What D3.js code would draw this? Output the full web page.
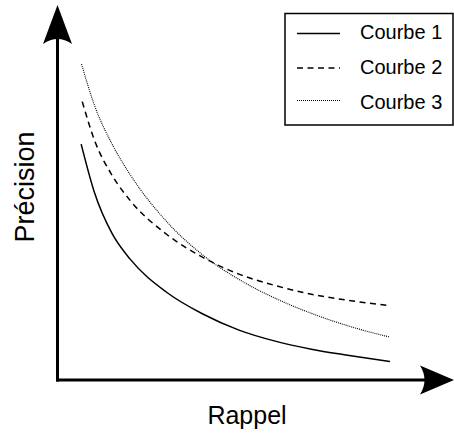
<!DOCTYPE html>
<html><head><meta charset="utf-8">
<script src="https://cdn.jsdelivr.net/npm/d3@7"></script>
<style>html,body{margin:0;padding:0;background:#fff;}svg{display:block;}</style>
</head><body>
<svg id="c" width="454" height="435"></svg>
<script>
// Data (Rappel on x, Précision on y, both in 0..1)
const seriesNames = ["Courbe 1", "Courbe 2", "Courbe 3"];
const rappel1 = [0.064, 0.1, 0.15, 0.2, 0.3, 0.4, 0.5, 0.6, 0.7, 0.8, 0.917];
const precision1 = [0.704, 0.562, 0.436, 0.360, 0.262, 0.197, 0.149, 0.116, 0.092, 0.074, 0.055];
const rappel2 = [0.067, 0.1, 0.15, 0.2, 0.3, 0.4, 0.5, 0.6, 0.7, 0.8, 0.917];
const precision2 = [0.831, 0.718, 0.610, 0.535, 0.435, 0.366, 0.316, 0.282, 0.256, 0.238, 0.222];
const rappel3 = [0.065, 0.1, 0.15, 0.2, 0.3, 0.4, 0.5, 0.6, 0.7, 0.8, 0.917];
const precision3 = [0.943, 0.822, 0.703, 0.612, 0.473, 0.373, 0.300, 0.244, 0.199, 0.162, 0.128];
const xLabel = "Rappel";
const yLabel = "Précision";

const svg = d3.select("#c");
const x = d3.scaleLinear().domain([0, 1]).range([58, 420]);
const y = d3.scaleLinear().domain([0, 1]).range([380, 45]);

const series = [
  {name: seriesNames[0], xs: rappel1, ys: precision1, dash: null, w: 1.5},
  {name: seriesNames[1], xs: rappel2, ys: precision2, dash: "6,4.5", w: 1.5},
  {name: seriesNames[2], xs: rappel3, ys: precision3, dash: "1,1", w: 1.1}
];

const line = d3.line().x(d => x(d[0])).y(d => y(d[1])).curve(d3.curveMonotoneX);
series.forEach(s => {
  svg.append("path")
    .datum(s.xs.map((v, i) => [v, s.ys[i]]))
    .attr("d", line)
    .attr("fill", "none")
    .attr("stroke", "#000")
    .attr("stroke-width", s.w)
    .attr("stroke-dasharray", s.dash);
});

// Axes with arrows
const ox = x(0) - 0.5, oy = y(0);
svg.append("line").attr("x1", ox).attr("y1", oy + 1.5).attr("x2", ox).attr("y2", 38)
  .attr("stroke", "#000").attr("stroke-width", 3);
svg.append("line").attr("x1", ox - 1.5).attr("y1", oy).attr("x2", 428).attr("y2", oy)
  .attr("stroke", "#000").attr("stroke-width", 3);
svg.append("path")
  .attr("d", `M${ox},5 L${ox + 14.5},44 Q${ox},34 ${ox - 14.5},44 Z`)
  .attr("fill", "#000");
svg.append("path")
  .attr("d", `M454,${oy} L420,${oy + 14.5} Q429,${oy} 420,${oy - 14.5} Z`)
  .attr("fill", "#000");

// Axis labels
svg.append("text").attr("x", 247).attr("y", 424).attr("text-anchor", "middle")
  .attr("font-family", "Liberation Sans, Arial, sans-serif").attr("font-size", 25)
  .text(xLabel);
svg.append("text").attr("transform", "translate(33.5,187) rotate(-90)").attr("text-anchor", "middle")
  .attr("font-family", "Liberation Sans, Arial, sans-serif").attr("font-size", 27)
  .text(yLabel);

// Legend
const lg = svg.append("g");
lg.append("rect").attr("x", 285).attr("y", 13.5).attr("width", 168).attr("height", 111.5)
  .attr("fill", "#fff").attr("stroke", "#000").attr("stroke-width", 1.5);
const ly = [33.5, 68, 100.5];
const lty = [38.5, 73.5, 108.5];
series.forEach((s, i) => {
  lg.append("line").attr("x1", 297).attr("x2", 340).attr("y1", ly[i]).attr("y2", ly[i])
    .attr("stroke", "#000").attr("stroke-width", s.w).attr("stroke-dasharray", s.dash);
  lg.append("text").attr("x", 360).attr("y", lty[i])
    .attr("font-family", "Liberation Sans, Arial, sans-serif").attr("font-size", 20)
    .text(s.name);
});
</script>
</body></html>
